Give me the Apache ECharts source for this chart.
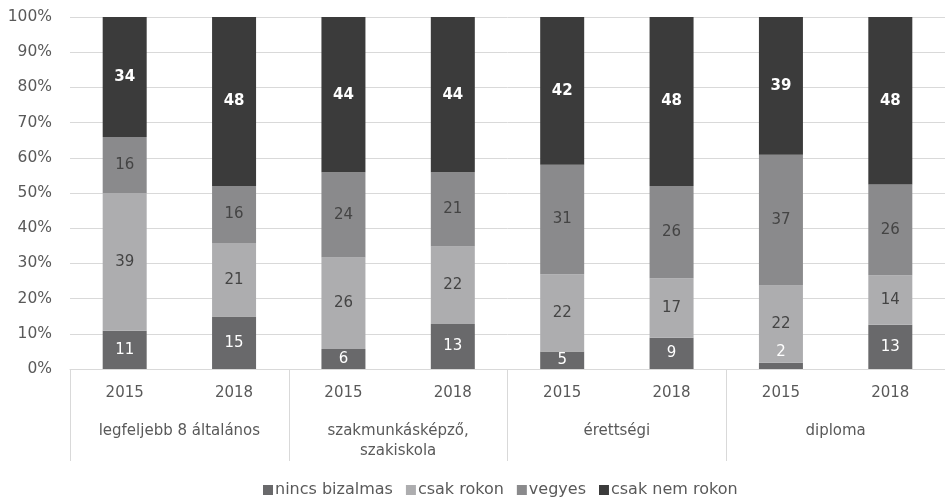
<!DOCTYPE html>
<html>
<head>
<meta charset="utf-8">
<script src="https://cdn.jsdelivr.net/npm/echarts@6/dist/echarts.min.js"></script>
<style>
html,body{margin:0;padding:0;background:#fff;}
#chart{width:945px;height:500px;}
</style>
</head>
<body>
<div id="chart"></div>
<script>
const years = ['2015','2018','2015','2018','2015','2018','2015','2018'];
const groups = ['legfeljebb 8 általános','szakmunkásképző,\nszakiskola','érettségi','diploma'];
const seriesNames = ['nincs bizalmas','csak rokon','vegyes','csak nem rokon'];
const ninccsBizalmas = [10.9, 14.9, 5.7, 12.8, 5.0, 8.9, 1.8, 12.6];
const csakRokon      = [39.1, 20.9, 26.0, 22.0, 21.9, 16.9, 21.9, 14.0];
const vegyes         = [15.9, 16.2, 24.2, 21.1, 31.1, 26.2, 37.2, 25.8];
const csakNemRokon   = [34.1, 48.0, 44.1, 44.1, 42.0, 48.0, 39.1, 47.6];
const yTicks = [0,10,20,30,40,50,60,70,80,90,100];

const colors = ['#69696b','#adadaf','#8a8a8c','#3b3b3b'];
const labelColors = ['#ffffff','#444444','#444444','#ffffff'];
const FONT = 'DejaVu Sans';
const values = [ninccsBizalmas, csakRokon, vegyes, csakNemRokon];

const series = values.map((arr, si) => ({
  name: seriesNames[si],
  type: 'bar',
  stack: 'total',
  barWidth: 44,
  xAxisIndex: 0,
  itemStyle: {color: colors[si]},
  label: {
    show: true,
    position: 'inside',
    color: labelColors[si],
    fontFamily: FONT,
    fontSize: 15,
    fontWeight: si === 3 ? 'bold' : 'normal',
    formatter: p => Math.round(p.value)
  },
  data: arr.map(v => {
    if (si === 0 && v < 3) {
      return {value: v, label: {position: 'top', distance: 3}};
    }
    return v;
  })
}));

const chart = echarts.init(document.getElementById('chart'), null, {renderer: 'canvas'});
chart.setOption({
  animation: false,
  color: colors,
  grid: {left: 70, top: 17, width: 880, height: 352, containLabel: false},
  legend: {
    bottom: -3,
    left: 258,
    itemWidth: 10,
    itemHeight: 10,
    itemGap: 13,
    icon: 'rect',
    textStyle: {fontFamily: FONT, fontSize: 16, color: '#595959', padding: [0,0,0,-3]},
    data: seriesNames
  },
  xAxis: [
    {
      type: 'category',
      data: years,
      position: 'bottom',
      axisLine: {show: true, lineStyle: {color: '#d9d9d9', width: 1}},
      axisTick: {show: false},
      axisLabel: {fontFamily: FONT, fontSize: 15, color: '#595959', margin: 17, interval: 0}
    },
    {
      type: 'category',
      data: groups,
      position: 'bottom',
      gridIndex: 0,
      axisLine: {show: false},
      axisTick: {show: true, length: 92, interval: 0, lineStyle: {color: '#d9d9d9', width: 1}},
      axisLabel: {fontFamily: FONT, fontSize: 15, color: '#595959', margin: 52, interval: 0, lineHeight: 20}
    }
  ],
  yAxis: {
    type: 'value',
    min: 0,
    max: 100,
    interval: 10,
    axisLine: {show: false},
    axisTick: {show: false},
    splitLine: {lineStyle: {color: '#d9d9d9', width: 1}},
    axisLabel: {
      fontFamily: FONT, fontSize: 15.5, color: '#595959', margin: 18,
      formatter: v => (yTicks.indexOf(v) >= 0 ? v + '%' : '')
    }
  },
  series: series
});
</script>
</body>
</html>
